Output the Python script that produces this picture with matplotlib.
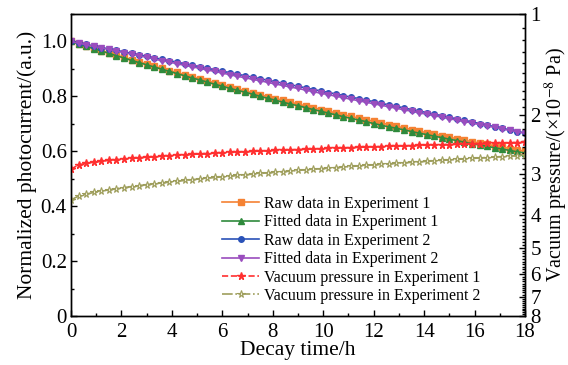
import numpy as np
import matplotlib
matplotlib.use("Agg")
import matplotlib.pyplot as plt
from matplotlib.ticker import FixedLocator, NullFormatter, MultipleLocator

plt.rcParams['font.family'] = ['Liberation Serif', 'DejaVu Serif']
plt.rcParams['mathtext.fontset'] = 'stix'

time_h = [0.0, 0.3, 0.6, 0.9, 1.2, 1.5, 1.8, 2.1, 2.4, 2.7, 3.0, 3.3, 3.6, 3.9, 4.2, 4.5,
          4.8, 5.1, 5.4, 5.7, 6.0, 6.3, 6.6, 6.9, 7.2, 7.5, 7.8, 8.1, 8.4, 8.7, 9.0, 9.3,
          9.6, 9.9, 10.2, 10.5, 10.8, 11.1, 11.4, 11.7, 12.0, 12.3, 12.6, 12.9, 13.2, 13.5,
          13.8, 14.1, 14.4, 14.7, 15.0, 15.3, 15.6, 15.9, 16.2, 16.5, 16.8, 17.1, 17.4,
          17.7, 18.0]

raw_exp1 = [1.000, 0.992, 0.983, 0.975, 0.966, 0.958, 0.950, 0.942, 0.934, 0.926, 0.918,
            0.910, 0.902, 0.894, 0.887, 0.879, 0.871, 0.864, 0.857, 0.849, 0.842, 0.835,
            0.827, 0.820, 0.813, 0.806, 0.799, 0.792, 0.786, 0.779, 0.772, 0.765, 0.759,
            0.752, 0.746, 0.740, 0.733, 0.727, 0.721, 0.715, 0.709, 0.703, 0.697, 0.691,
            0.685, 0.679, 0.673, 0.668, 0.662, 0.657, 0.651, 0.646, 0.640, 0.635, 0.630,
            0.625, 0.620, 0.615, 0.610, 0.605, 0.600]

fit_exp1 = [1.000, 0.991, 0.982, 0.974, 0.965, 0.957, 0.948, 0.940, 0.931, 0.923, 0.915,
            0.907, 0.899, 0.891, 0.883, 0.875, 0.867, 0.860, 0.852, 0.844, 0.837, 0.829,
            0.822, 0.815, 0.808, 0.800, 0.793, 0.786, 0.779, 0.772, 0.766, 0.759, 0.752,
            0.746, 0.739, 0.733, 0.726, 0.720, 0.714, 0.708, 0.701, 0.695, 0.689, 0.684,
            0.678, 0.672, 0.666, 0.661, 0.655, 0.650, 0.644, 0.639, 0.633, 0.628, 0.623,
            0.618, 0.613, 0.608, 0.603, 0.598, 0.594]

raw_exp2 = [1.000, 0.995, 0.989, 0.984, 0.978, 0.973, 0.968, 0.962, 0.957, 0.952, 0.946,
            0.941, 0.935, 0.930, 0.925, 0.919, 0.914, 0.908, 0.903, 0.897, 0.892, 0.886,
            0.881, 0.875, 0.870, 0.864, 0.859, 0.853, 0.848, 0.842, 0.837, 0.831, 0.825,
            0.820, 0.814, 0.809, 0.803, 0.797, 0.792, 0.786, 0.781, 0.775, 0.769, 0.764,
            0.758, 0.752, 0.747, 0.741, 0.735, 0.730, 0.724, 0.718, 0.713, 0.707, 0.701,
            0.695, 0.690, 0.684, 0.678, 0.672, 0.667]

fit_exp2 = [1.000, 0.994, 0.988, 0.982, 0.977, 0.971, 0.965, 0.959, 0.954, 0.948, 0.942,
            0.936, 0.930, 0.925, 0.919, 0.913, 0.908, 0.902, 0.896, 0.891, 0.885, 0.879,
            0.873, 0.868, 0.862, 0.857, 0.851, 0.845, 0.840, 0.834, 0.829, 0.823, 0.817,
            0.812, 0.806, 0.801, 0.795, 0.790, 0.784, 0.779, 0.773, 0.768, 0.762, 0.757,
            0.751, 0.746, 0.740, 0.735, 0.730, 0.724, 0.719, 0.713, 0.708, 0.703, 0.697,
            0.692, 0.687, 0.681, 0.676, 0.671, 0.665]

# vacuum pressure, x1e-8 Pa
vac_exp1 = [2.910, 2.826, 2.796, 2.774, 2.756, 2.740, 2.726, 2.713, 2.701, 2.690, 2.680,
            2.671, 2.661, 2.653, 2.644, 2.637, 2.629, 2.622, 2.614, 2.607, 2.601, 2.594,
            2.588, 2.582, 2.576, 2.570, 2.565, 2.559, 2.554, 2.548, 2.543, 2.538, 2.533,
            2.528, 2.523, 2.519, 2.514, 2.509, 2.505, 2.500, 2.496, 2.492, 2.488, 2.483,
            2.479, 2.475, 2.471, 2.467, 2.464, 2.460, 2.456, 2.452, 2.449, 2.445, 2.441,
            2.438, 2.434, 2.431, 2.427, 2.424, 2.421]

vac_exp2 = [3.596, 3.503, 3.455, 3.417, 3.385, 3.356, 3.329, 3.304, 3.281, 3.259, 3.238,
            3.218, 3.199, 3.181, 3.163, 3.146, 3.129, 3.113, 3.098, 3.082, 3.067, 3.053,
            3.039, 3.025, 3.012, 2.998, 2.985, 2.973, 2.960, 2.948, 2.936, 2.924, 2.913,
            2.901, 2.890, 2.879, 2.868, 2.857, 2.847, 2.836, 2.826, 2.816, 2.806, 2.796,
            2.786, 2.777, 2.767, 2.758, 2.748, 2.739, 2.730, 2.721, 2.712, 2.704, 2.695,
            2.686, 2.678, 2.669, 2.661, 2.653, 2.645]

x_ticks = [0, 2, 4, 6, 8, 10, 12, 14, 16, 18]
y_ticks = [0, 0.2, 0.4, 0.6, 0.8, 1.0]
y_tick_labels = ['0', '0.2', '0.4', '0.6', '0.8', '1.0']
p_ticks = [1, 2, 3, 4, 5, 6, 7, 8]

labels = ['Raw data in Experiment 1', 'Fitted data in Experiment 1',
          'Raw data in Experiment 2', 'Fitted data in Experiment 2',
          'Vacuum pressure in Experiment 1', 'Vacuum pressure in Experiment 2']

fig = plt.figure(figsize=(5.68, 3.65), dpi=100)
ax = fig.add_axes([0.125, 0.1342, 0.7993, 0.8274])
ax2 = ax.twinx()

ms = 4
l1, = ax.plot(time_h, raw_exp1, color='#F58233', marker='s', ms=ms, lw=1.2, label=labels[0])
l2, = ax.plot(time_h, fit_exp1, color='#2F8A3C', marker='^', ms=ms, lw=1.2, label=labels[1])
l3, = ax.plot(time_h, raw_exp2, color='#2A52B8', marker='o', ms=ms, lw=1.2, label=labels[2])
l4, = ax.plot(time_h, fit_exp2, color='#9A4DBE', marker='v', ms=ms, lw=1.2, label=labels[3])
l5, = ax2.plot(time_h, vac_exp1, color='#FF3030', marker='*', ms=5.5, lw=1.2, ls='--', label=labels[4])
l6, = ax2.plot(time_h, vac_exp2, color='#9E9E5C', marker='*', ms=5.5, mfc='#F4F1E0', mew=0.8,
               lw=1.2, ls='-.', label=labels[5])

ax.set_xlim(0, 18)
ax.set_ylim(0, 1.1)
ax.set_xticks(x_ticks)
ax.xaxis.set_minor_locator(MultipleLocator(1))
ax.set_yticks(y_ticks)
ax.set_yticklabels(y_tick_labels)
ax.yaxis.set_minor_locator(MultipleLocator(0.1))

ax2.set_yscale('log')
ax2.set_ylim(8, 1)
ax2.yaxis.set_major_locator(FixedLocator(p_ticks))
ax2.set_yticklabels([str(p) for p in p_ticks])
minor = [round(v, 1) for v in np.arange(1.1, 8.0, 0.1) if abs(v - round(v)) > 0.01]
ax2.yaxis.set_minor_locator(FixedLocator(minor))
ax2.yaxis.set_minor_formatter(NullFormatter())

for a in (ax, ax2):
    a.tick_params(which='both', direction='in', labelsize=15, width=1.0)
    a.tick_params(which='major', length=4)
    a.tick_params(which='minor', length=2.5)
    for s in a.spines.values():
        s.set_linewidth(1.0)
ax.tick_params(axis='y', which='both', right=False, pad=3)
ax.tick_params(axis='x', pad=5)
ax2.tick_params(axis='y', pad=4)

ax.set_xlabel('Decay time/h', fontsize=15.5, labelpad=-1)
ax.set_ylabel('Normalized photocurrent/(a.u.)', fontsize=15.5, labelpad=3)
ax2.set_ylabel('Vacuum pressure/(×10$^{-8}$ Pa)', fontsize=14.5, labelpad=1)

ax.legend(handles=[l1, l2, l3, l4, l5, l6], loc='lower left', bbox_to_anchor=(0.333, 0.04),
          frameon=False, fontsize=11.5, handlelength=2.3, handletextpad=0.3,
          labelspacing=0.15, borderaxespad=0, borderpad=0)

fig.savefig('out.png', dpi=100)
